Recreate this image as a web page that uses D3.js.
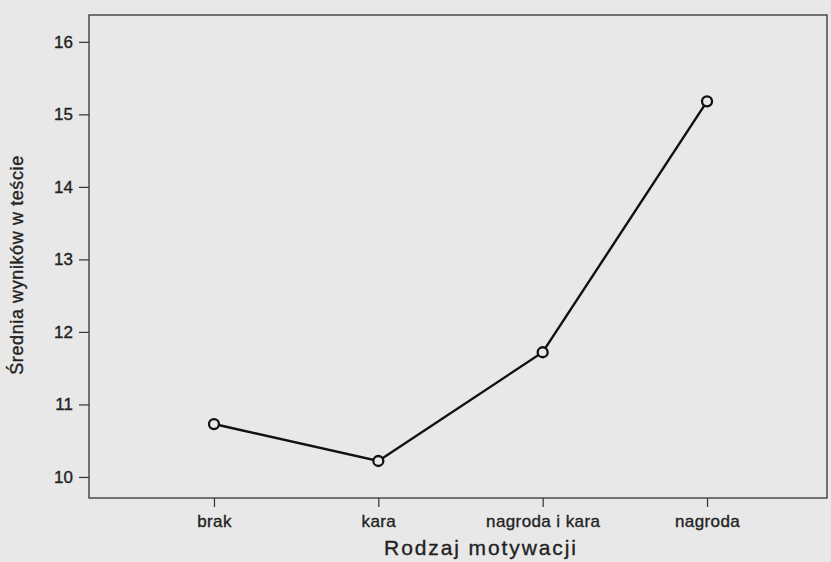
<!DOCTYPE html>
<html><head><meta charset="utf-8">
<script src="https://cdn.jsdelivr.net/npm/d3@7"></script>
<style>
html,body{margin:0;padding:0;background:#e8e8e8;}
svg{display:block;font-family:"Liberation Sans",Arial,sans-serif;}
</style></head>
<body><svg id="c" width="831" height="562"></svg>
<script>
const categories = ["brak", "kara", "nagroda i kara", "nagroda"];
const means = [10.73, 10.22, 11.72, 15.18];
const yTicks = [10, 11, 12, 13, 14, 15, 16];
const xTitle = "Rodzaj motywacji";
const yTitle = "Średnia wyników w teście";

const svg = d3.select("#c");
const W = 831, H = 562;
svg.append("rect").attr("width", W).attr("height", H).attr("fill", "#e8e8e8");
const m = {left: 89, right: 4, top: 15, bottom: 64};
const iw = W - m.left - m.right, ih = H - m.top - m.bottom;

const x = d3.scalePoint().domain(categories).range([5, iw]).padding(0.73);
const y = d3.scaleLinear().domain([9.71, 16.37]).range([ih, 0]);

const g = svg.append("g").attr("transform", `translate(${m.left},${m.top})`);

g.append("rect").attr("width", iw).attr("height", ih)
  .attr("fill", "none").attr("stroke", "#333").attr("stroke-width", 1.3);

const txtStyle = sel => sel.attr("fill", "#222").attr("stroke", "#222").attr("stroke-width", 0.35)
  .attr("font-family", "Liberation Sans, Arial, sans-serif");

const yAxis = g.append("g").call(d3.axisLeft(y).tickValues(yTicks).tickSize(10).tickPadding(6).tickFormat(d3.format("d")));
yAxis.select(".domain").remove();
yAxis.selectAll("line").attr("stroke", "#333").attr("stroke-width", 1.2);
yAxis.selectAll("text").attr("font-size", 17).call(txtStyle);

const xAxis = g.append("g").attr("transform", `translate(0,${ih})`)
  .call(d3.axisBottom(x).tickSize(9).tickPadding(8));
xAxis.select(".domain").remove();
xAxis.selectAll("line").attr("stroke", "#333").attr("stroke-width", 1.2);
xAxis.selectAll("text").attr("font-size", 17).attr("letter-spacing", 0.4).call(txtStyle);

const line = d3.line().x((d, i) => x(categories[i])).y(d => y(d));
g.append("path").datum(means).attr("d", line)
  .attr("fill", "none").attr("stroke", "#111").attr("stroke-width", 2.4);

g.selectAll("circle.pt").data(means).join("circle").attr("class", "pt")
  .attr("cx", (d, i) => x(categories[i])).attr("cy", d => y(d)).attr("r", 5)
  .attr("fill", "#e8e8e8").attr("stroke", "#111").attr("stroke-width", 2.3);

svg.append("text").attr("x", 481).attr("y", 555)
  .attr("text-anchor", "middle").attr("font-size", 21).attr("letter-spacing", 1.9).call(txtStyle).text(xTitle);

svg.append("text").attr("transform", "translate(23,265) rotate(-90)")
  .attr("text-anchor", "middle").attr("font-size", 18).attr("letter-spacing", 0.6).call(txtStyle).text(yTitle);
</script></body></html>
